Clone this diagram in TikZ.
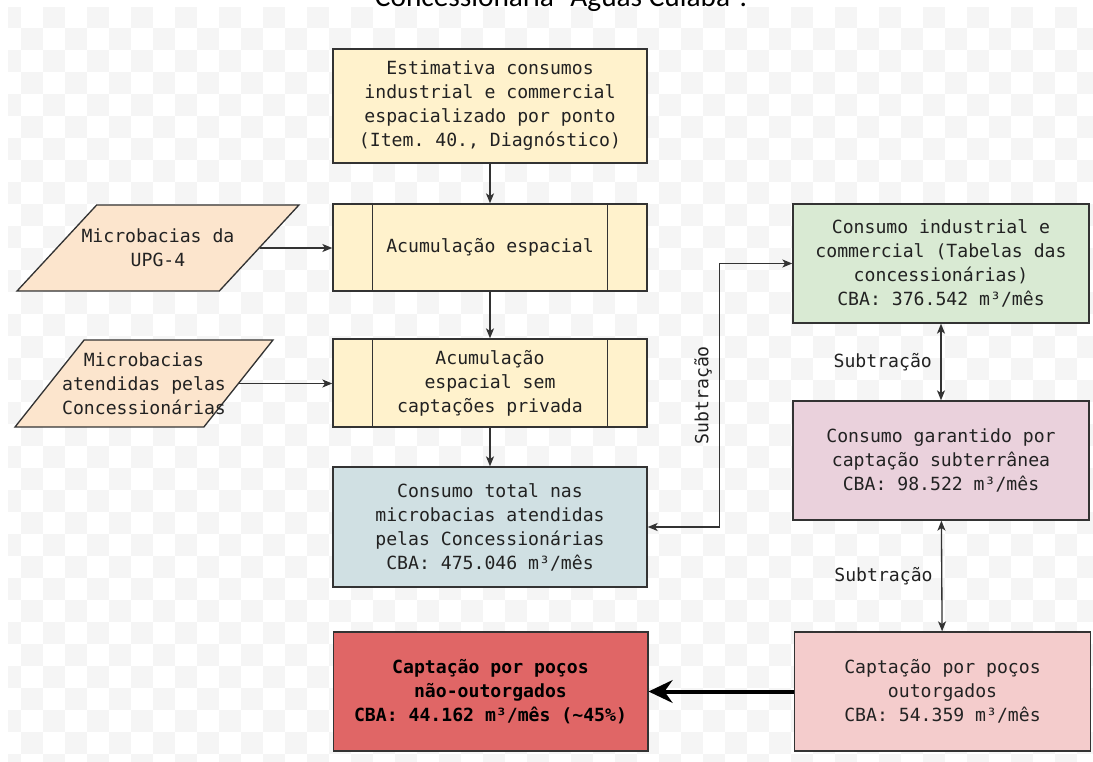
\documentclass[tikz,border=0pt]{standalone}
\usepackage{fontspec}
\setmonofont{DejaVu Sans Mono}
\newfontfamily\titlefont{Carlito}
\usetikzlibrary{arrows.meta,shapes.geometric}

\definecolor{chkgray}{HTML}{F5F5F5}
\definecolor{linegray}{HTML}{333333}
\definecolor{txtgray}{HTML}{222222}
\definecolor{lyellow}{HTML}{FFF2CC}
\definecolor{lorange}{HTML}{FCE5CD}
\definecolor{lcyan}{HTML}{D0E0E3}
\definecolor{lgreen}{HTML}{D9EAD3}
\definecolor{lmagenta}{HTML}{EAD1DC}
\definecolor{lred}{HTML}{F4CCCC}
\definecolor{redtwo}{HTML}{E06666}

\begin{document}
\begin{tikzpicture}[x=0.75pt, y=-0.75pt,
        every node/.style={font=\ttfamily\fontsize{13.6pt}{18pt}\selectfont, text=txtgray, align=center},
        box/.style={draw=linegray, line width=1pt, rectangle, inner sep=0pt},
        estbox/.style={box, fill=lyellow, minimum width=235.5pt},
        dataio/.style={trapezium, trapezium stretches, draw=linegray, line width=1pt, fill=lorange, inner sep=2pt},
        sidebox/.style={box, minimum width=222pt, minimum height=89.25pt},
        flow/.style={-{Stealth[length=7.5pt, width=6pt, inset=2pt]}, line width=1pt, draw=linegray},
        both/.style={{Stealth[length=7.5pt, width=6pt, inset=2pt]}-{Stealth[length=7.5pt, width=6pt, inset=2pt]}, line width=1pt, draw=linegray},
        bigflow/.style={-{Stealth[length=18pt, width=17pt, inset=6pt]}, line width=3pt, draw=black}]

    \useasboundingbox (0,0) rectangle (1093,762);

    % checkerboard backdrop
    \begin{scope}
        \clip (8,8) rectangle (1093,762);
        \foreach \i in {0,...,34}
            \foreach \j in {0,...,49}{
                \pgfmathparse{int(mod(\i+\j,2))}
                \ifnum\pgfmathresult=0
                    \fill[chkgray] (-1+22*\j, 6+22*\i) rectangle ++(22,22);
                \fi
            }
    \end{scope}

    \node[font=\titlefont\fontsize{22pt}{26pt}\selectfont, text=black, anchor=base] (title) at (561,7) {Concessionária “Águas Cuiabá”.};

    % left column
    \node[estbox, minimum height=85.5pt] (est) at (490,106)
        {Estimativa consumos\\industrial e commercial\\espacializado por ponto\\(Item. 40., Diagnóstico)};
    \node[estbox, minimum height=65.25pt] (acum) at (490,247.5) {Acumulação espacial};
    \node[estbox, minimum height=66pt] (acumsem) at (490,383)
        {Acumulação\\espacial sem\\captações privada};
    \node[box, fill=lcyan, minimum width=235.5pt, minimum height=90pt] (total) at (490,527)
        {Consumo total nas\\microbacias atendidas\\pelas Concessionárias\\CBA: 475.046 m³/mês};
    \node[box, fill=redtwo, minimum width=236pt, minimum height=89.25pt, font=\ttfamily\bfseries\fontsize{13.6pt}{18pt}\selectfont, text=black] (naoout) at (490.5,691.5)
        {Captação por poços\\não-outorgados\\CBA: 44.162 m³/mês (\textasciitilde45\%)};

    \foreach \n in {acum,acumsem}{
        \draw[linegray, line width=1pt] ([xshift=30pt]\n.north west) -- ([xshift=30pt]\n.south west);
        \draw[linegray, line width=1pt] ([xshift=-30pt]\n.north east) -- ([xshift=-30pt]\n.south east);
    }

    % inputs
    \node[dataio, trapezium left angle=57, trapezium right angle=123, minimum width=211.5pt, minimum height=64.5pt,
        label={[name=upgtxt]center:Microbacias da\\UPG-4}] (upg) at (158,248) {};
    \node[dataio, trapezium left angle=60, trapezium right angle=120, minimum width=193.5pt, minimum height=65.25pt,
        label={[name=conctxt]center:Microbacias\\atendidas pelas\\Concessionárias}] (conc) at (144,383.5) {};

    % right column
    \node[sidebox, fill=lgreen] (indcom) at (941,263.5)
        {Consumo industrial e\\commercial (Tabelas das\\concessionárias)\\CBA: 376.542 m³/mês};
    \node[sidebox, fill=lmagenta] (subt) at (941,460.5)
        {Consumo garantido por\\captação subterrânea\\CBA: 98.522 m³/mês};
    \node[sidebox, fill=lred] (outorg) at (942.5,691.5)
        {Captação por poços\\outorgados\\CBA: 54.359 m³/mês};

    \draw[flow] (est) -- (acum);
    \draw[flow] (acum) -- (acumsem);
    \draw[flow] (acumsem) -- (total);
    \draw[flow] (upg.east) -- (upg.east -| acum.west);
    \draw[flow] (conc.east) -- (conc.east -| acumsem.west);

    \draw[both] (total.east) -- ++(72,0) |- (indcom.west)
        node[pos=0.25, left=2pt, rotate=90, anchor=south] (sub1) {Subtração};
    \draw[both] (indcom) -- (subt) node[midway, left=3pt] (sub2) {Subtração};
    \draw[both] (subt) -- (outorg) node[midway, left=3pt] (sub3) {Subtração};
    \draw[bigflow] (outorg) -- (naoout);
\end{tikzpicture}
\end{document}
